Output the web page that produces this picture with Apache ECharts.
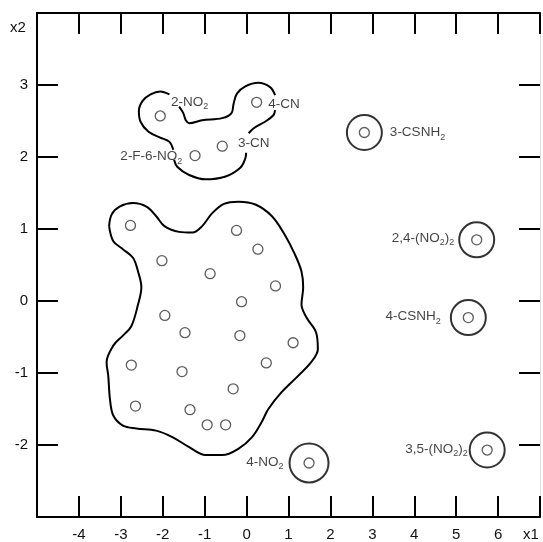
<!DOCTYPE html>
<html>
<head>
<meta charset="utf-8">
<script src="https://cdn.jsdelivr.net/npm/echarts@6/dist/echarts.min.js"></script>
<style>
html,body{margin:0;padding:0;background:#fff;}
#chart{width:543px;height:542px;}
</style>
</head>
<body>
<div id="chart"></div>
<script>
// ---- data ----
const xTicks = [-4, -3, -2, -1, 0, 1, 2, 3, 4, 5, 6];
const yTicks = [-2, -1, 0, 1, 2, 3];

// unlabeled compounds of the large cluster
const clusterX = [-2.77, -0.24, 0.27, -2.02, -0.87, 0.69, -0.12, -1.95, -1.47, -0.16, 1.11, -2.75, 0.47, -1.54, -0.32, -2.65, -1.35, -0.94, -0.50];
const clusterY = [1.05, 0.98, 0.72, 0.56, 0.38, 0.21, -0.01, -0.20, -0.44, -0.48, -0.58, -0.89, -0.86, -0.98, -1.22, -1.46, -1.51, -1.72, -1.72];

// labeled compounds of the upper group
const groupNames = ['2-NO2', '4-CN', '3-CN', '2-F-6-NO2'];
const groupX = [-2.06, 0.24, -0.58, -1.23];
const groupY = [2.57, 2.76, 2.15, 2.02];

// isolated compounds (ringed)
const isoNames = ['3-CSNH2', '2,4-(NO2)2', '4-CSNH2', '4-NO2', '3,5-(NO2)2'];
const isoX = [2.81, 5.49, 5.29, 1.49, 5.74];
const isoY = [2.34, 0.85, -0.23, -2.25, -2.07];

// contour of the large cluster (closed)
const blobX = [-3.28, -3.22, -3.03, -2.71, -2.39, -2.16, -1.96, -1.61, -1.29, -1.06, -0.82, -0.54, -0.19, 0.21, 0.60, 0.91, 1.15, 1.31, 1.35, 1.31, 1.43, 1.66, 1.70, 1.54, 1.23, 0.83, 0.52, 0.36, 0.13, -0.19, -0.58, -0.98, -1.37, -1.77, -2.16, -2.63, -2.95, -3.18, -3.26, -3.30, -3.34, -3.18, -2.95, -2.75, -2.59, -2.51, -2.59, -2.71, -2.95, -3.18, -3.28];
const blobY = [1.04, 1.20, 1.31, 1.36, 1.31, 1.18, 1.04, 0.96, 0.95, 1.04, 1.22, 1.35, 1.38, 1.34, 1.18, 0.92, 0.65, 0.41, 0.19, -0.05, -0.23, -0.44, -0.67, -0.85, -1.04, -1.27, -1.50, -1.68, -1.89, -2.05, -2.14, -2.14, -2.03, -1.89, -1.80, -1.77, -1.73, -1.59, -1.36, -1.04, -0.85, -0.62, -0.48, -0.35, -0.05, 0.19, 0.41, 0.60, 0.72, 0.83, 1.04];

// contour of the upper group (broken by labels)
const topAX = [-1.84, -2.06, -2.29, -2.48, -2.57, -2.53, -2.34, -2.06, -1.84, -1.75];
const topAY = [2.87, 2.91, 2.87, 2.78, 2.64, 2.49, 2.35, 2.27, 2.21, 2.10];
const topBX = [-1.73, -1.65, -1.37, -0.98, -0.50, -0.15, -0.03, -0.01];
const topBY = [1.96, 1.86, 1.75, 1.69, 1.73, 1.85, 1.98, 2.06];
const topCX = [0.05, 0.17, 0.44, 0.64, 0.68];
const topCY = [2.33, 2.40, 2.49, 2.58, 2.65];
const topDX = [0.68, 0.56, 0.28, -0.03, -0.23, -0.31, -0.36, -0.58, -1.06, -1.37, -1.45, -1.51, -1.61];
const topDY = [2.86, 2.97, 3.03, 2.98, 2.88, 2.74, 2.61, 2.54, 2.51, 2.47, 2.51, 2.61, 2.70];

// ---- presentation ----
const FONT = 'Liberation Sans, Arial, sans-serif';
const labelText = {
  '2-NO2': '{n|2-NO}{s|2}',
  '4-CN': '{n|4-CN}',
  '3-CN': '{n|3-CN}',
  '2-F-6-NO2': '{n|2-F-6-NO}{s|2}',
  '3-CSNH2': '{n|3-CSNH}{s|2}',
  '2,4-(NO2)2': '{n|2,4-(NO}{s|2}{n|)}{s|2}',
  '4-CSNH2': '{n|4-CSNH}{s|2}',
  '4-NO2': '{n|4-NO}{s|2}',
  '3,5-(NO2)2': '{n|3,5-(NO}{s|2}{n|)}{s|2}'
};
const labelPlace = {
  '2-NO2': ['right', [0, -14]],
  '4-CN': ['right', [1, 2]],
  '3-CN': ['right', [5, -3]],
  '2-F-6-NO2': ['left', [-2, 1]],
  '3-CSNH2': ['right', [2, 0]],
  '2,4-(NO2)2': ['left', [1, -2]],
  '4-CSNH2': ['left', [-4, -1]],
  '4-NO2': ['left', [0, -1]],
  '3,5-(NO2)2': ['left', [4, -1]]
};
const ringSize = {'4-NO2': 39};
const rich = {
  n: {fontSize: 13.5, fontFamily: FONT, color: '#111', lineHeight: 16},
  s: {fontSize: 9, fontFamily: FONT, color: '#111', lineHeight: 9, verticalAlign: 'bottom', padding: [0, 0, -1, 0]}
};
function lbl(name) {
  const p = labelPlace[name];
  return {show: true, position: p[0], offset: p[1], formatter: labelText[name], rich: rich};
}
const zip = (xs, ys) => xs.map((x, i) => [x, ys[i]]);

const lineSeries = (xs, ys) => ({
  type: 'line', data: zip(xs, ys), smooth: 0.35, symbol: 'none', silent: true,
  lineStyle: {color: '#000', width: 2}, z: 1
});

const axisCommon = {
  type: 'value',
  splitLine: {show: false},
  axisLine: {onZero: false, lineStyle: {color: '#000', width: 2}},
  axisTick: {inside: true, length: 21, lineStyle: {color: '#000', width: 2}}
};

const option = {
  animation: false,
  grid: {left: 37, top: 13, width: 507, height: 505},
  xAxis: [
    Object.assign({}, axisCommon, {position: 'bottom', min: -5, max: 7, interval: 1,
      axisLabel: {margin: 10, fontSize: 15, color: '#111', fontFamily: FONT,
        formatter: v => xTicks.indexOf(v) >= 0 ? String(v) : ''}}),
    Object.assign({}, axisCommon, {position: 'top', min: -5, max: 7, interval: 1,
      axisLabel: {show: false}})
  ],
  yAxis: [
    Object.assign({}, axisCommon, {position: 'left', min: -3, max: 4, interval: 1,
      axisLabel: {margin: 9, fontSize: 15, color: '#111', fontFamily: FONT,
        formatter: v => yTicks.indexOf(v) >= 0 ? String(v) : ''}}),
    Object.assign({}, axisCommon, {position: 'right', min: -3, max: 4, interval: 1,
      axisLine: {onZero: false, lineStyle: {color: '#ddd', width: 1}},
      axisLabel: {show: false}})
  ],
  graphic: [
    {type: 'text', left: 10, top: 20, style: {text: 'x2', fontSize: 15, fontFamily: FONT, fill: '#111'}},
    {type: 'text', left: 523, top: 527, style: {text: 'x1', fontSize: 15, fontFamily: FONT, fill: '#111'}}
  ],
  series: [
    lineSeries(blobX, blobY),
    lineSeries(topAX, topAY),
    lineSeries(topBX, topBY),
    lineSeries(topCX, topCY),
    lineSeries(topDX, topDY),
    {
      type: 'scatter', data: zip(clusterX, clusterY), symbol: 'circle', symbolSize: 10,
      itemStyle: {color: '#fff', borderColor: '#333', borderWidth: 1.3}, z: 3
    },
    {
      type: 'scatter', symbol: 'circle', symbolSize: 10,
      data: groupNames.map((n, i) => ({name: n, value: [groupX[i], groupY[i]], label: lbl(n)})),
      itemStyle: {color: '#fff', borderColor: '#333', borderWidth: 1.3}, z: 3
    },
    {
      type: 'scatter', symbol: 'circle', symbolSize: 10,
      data: zip(isoX, isoY),
      itemStyle: {color: '#fff', borderColor: '#333', borderWidth: 1.3}, z: 3
    },
    {
      type: 'scatter', symbol: 'circle',
      symbolSize: (v, p) => ringSize[p.name] || 35,
      data: isoNames.map((n, i) => ({name: n, value: [isoX[i], isoY[i]], label: lbl(n)})),
      itemStyle: {color: 'rgba(0,0,0,0)', borderColor: '#000', borderWidth: 2}, z: 2
    }
  ]
};

const chart = echarts.init(document.getElementById('chart'), null, {renderer: 'canvas'});
chart.setOption(option);
</script>
</body>
</html>
